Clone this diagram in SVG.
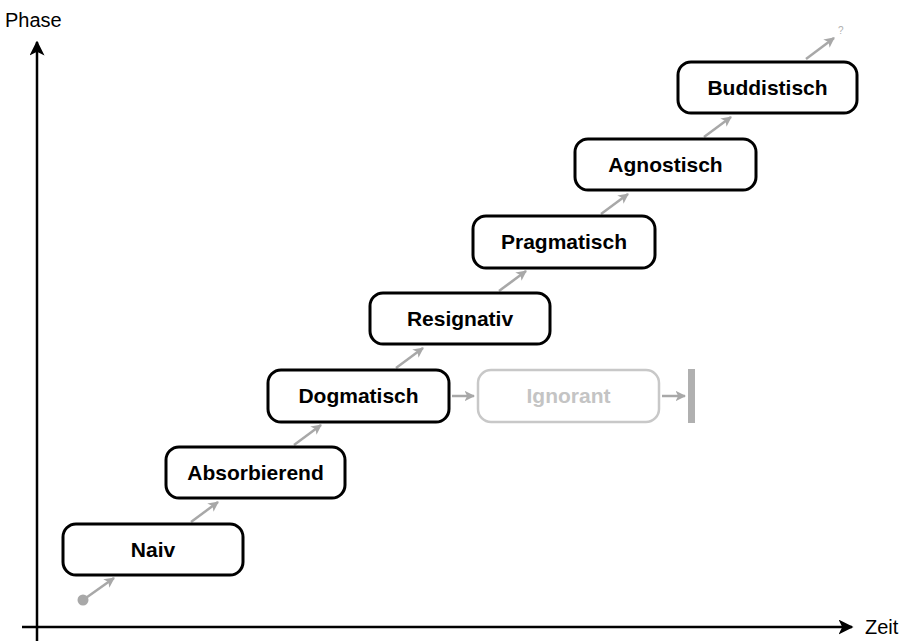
<svg xmlns="http://www.w3.org/2000/svg" width="904" height="641" viewBox="0 0 904 641">
<style>
.box{fill:#fff;stroke:#000;stroke-width:3}
.lbl{font-family:"Liberation Sans",Arial,sans-serif;font-weight:bold;font-size:21px;fill:#000;text-anchor:middle}
.ghost{fill:#fff;stroke:#c8c8c8;stroke-width:2.5}
.glbl{font-family:"Liberation Sans",Arial,sans-serif;font-weight:bold;font-size:21px;fill:#c4c4c4;text-anchor:middle}
.axis{stroke:#000;stroke-width:2.5;fill:none}
.ga{stroke:#a8a8a8;stroke-width:2.5;fill:none;marker-end:url(#gh)}
.ax{font-family:"Liberation Sans",Arial,sans-serif;font-size:20px;fill:#000}
</style>
<defs>
<marker id="gh" viewBox="0 0 10 10" refX="9" refY="5" markerWidth="4.2" markerHeight="4.2" orient="auto" markerUnits="strokeWidth">
<path d="M0,0 L10,5 L0,10 L2.5,5 Z" fill="#a8a8a8"/>
</marker>
<marker id="bh" viewBox="0 0 10 10" refX="9" refY="5" markerWidth="6" markerHeight="6" orient="auto" markerUnits="strokeWidth">
<path d="M0,0 L10,5 L0,10 L2.5,5 Z" fill="#000"/>
</marker>
</defs>
<g id="axes">
<line class="axis" x1="37" y1="641" x2="37" y2="42" marker-end="url(#bh)"/>
<line class="axis" x1="22" y1="627" x2="852" y2="627" marker-end="url(#bh)"/>
<text class="ax" x="5" y="27">Phase</text>
<text class="ax" x="865" y="634">Zeit</text>
</g>
<g id="connectors">
<circle cx="83" cy="600" r="5.5" fill="#a8a8a8"/>
<line class="ga" x1="83" y1="600" x2="114" y2="578"/>
<line class="ga" x1="191" y1="522" x2="218" y2="502"/>
<line class="ga" x1="294" y1="445" x2="321" y2="425"/>
<line class="ga" x1="396" y1="368" x2="423" y2="348"/>
<line class="ga" x1="499" y1="291" x2="526" y2="271"/>
<line class="ga" x1="601" y1="214" x2="628" y2="194"/>
<line class="ga" x1="704" y1="137" x2="731" y2="117"/>
<line class="ga" x1="806" y1="59" x2="834" y2="38"/>
<text x="838" y="34" font-family="Liberation Sans, Arial, sans-serif" font-size="10" fill="#b0b0b0">?</text>
<line class="ga" x1="452" y1="396" x2="474" y2="396"/>
<line class="ga" x1="662" y1="396" x2="685" y2="396"/>
<rect x="688" y="369" width="7" height="54" fill="#b0b0b0"/>
</g>
<g id="naiv"><rect class="box" x="63" y="524" width="180" height="51" rx="13"/><text class="lbl" x="153" y="557">Naiv</text></g>
<g id="absorbierend"><rect class="box" x="166" y="447" width="179" height="51" rx="13"/><text class="lbl" x="255.5" y="480">Absorbierend</text></g>
<g id="dogmatisch"><rect class="box" x="268" y="370" width="181" height="52" rx="13"/><text class="lbl" x="358.5" y="403">Dogmatisch</text></g>
<g id="ignorant"><rect class="ghost" x="478" y="370" width="181" height="52" rx="13"/><text class="glbl" x="568.5" y="403">Ignorant</text></g>
<g id="resignativ"><rect class="box" x="370" y="293" width="180" height="51" rx="13"/><text class="lbl" x="460" y="326">Resignativ</text></g>
<g id="pragmatisch"><rect class="box" x="473" y="216" width="182" height="52" rx="13"/><text class="lbl" x="564" y="249">Pragmatisch</text></g>
<g id="agnostisch"><rect class="box" x="575" y="139" width="181" height="51" rx="13"/><text class="lbl" x="665.5" y="172">Agnostisch</text></g>
<g id="buddistisch"><rect class="box" x="678" y="62" width="179" height="51" rx="13"/><text class="lbl" x="767.5" y="95">Buddistisch</text></g>
</svg>
